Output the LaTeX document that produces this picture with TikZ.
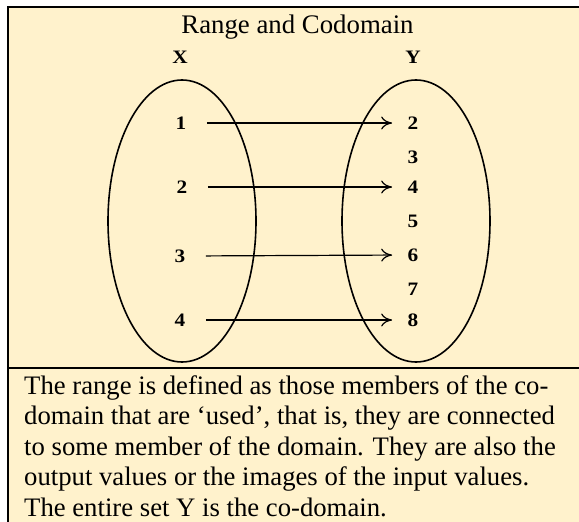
\documentclass[tikz,border=0pt]{standalone}
\usepackage{fontspec}
\setmainfont{Liberation Serif}
\usepackage{xcolor}
\usetikzlibrary{arrows.meta,positioning,calc}
\definecolor{cream}{RGB}{255,242,204}
\newcommand{\wide}[1]{\scalebox{1.12}[1]{#1}}

\begin{document}
\begin{tikzpicture}[x=1pt,y=-1pt,>={To[length=11pt,width=13pt]},
  elem/.style={font=\fontsize{19}{22}\selectfont\bfseries}]
\useasboundingbox (0,0) rectangle (579,522);
% frame
\fill[cream] (8,7) rectangle (579,522);
\draw[line width=2pt] (7,7)--(579,7);
\draw[line width=2.5pt] (8,6)--(8,522);
\draw[line width=2pt] (8,368)--(579,368);
\node[font=\fontsize{26.8}{30}\selectfont,anchor=base] (title) at (297.5,33) {Range and Codomain};
% the two sets
\draw[line width=1.6pt] (182,221) ellipse [x radius=74,y radius=141];
\draw[line width=1.6pt] (416,221) ellipse [x radius=74,y radius=141];
\node[elem] (X) at (180,57) {\wide{X}};
\node[elem] (Y) at (413,57) {\wide{Y}};
% domain
\node[elem] (x1) at (181,123) {\wide{1}};
\node[elem] (x2) at (182,187) {\wide{2}};
\node[elem] (x3) at (180,256) {\wide{3}};
\node[elem] (x4) at (180,320) {\wide{4}};
% codomain
\node[elem] (y2) at (413,123) {\wide{2}};
\node[elem] (y3) at (413,157) {\wide{3}};
\node[elem] (y4) at (413,187) {\wide{4}};
\node[elem] (y5) at (413,221) {\wide{5}};
\node[elem] (y6) at (413,255) {\wide{6}};
\node[elem] (y7) at (413,289) {\wide{7}};
\node[elem] (y8) at (413,320) {\wide{8}};
% the map
\begin{scope}[line width=1.2pt,shorten <=17pt,shorten >=12pt]
  \draw[->] (x1.east)--(y2.west);
  \draw[->] (x2.east)--(y4.west);
  \draw[->] (x3.east)--(y6.west);
  \draw[->] (x4.east)--(y8.west);
\end{scope}
\node[font=\fontsize{26.7}{30.6}\selectfont,align=left,anchor=north west,inner sep=0pt] (note) at (24,375)
  {The range is defined as those members of the co-\\
   domain that are ‘used’, that is, they are connected\\
   to some member of the domain. They are also the\\
   output values or the images of the input values.\\
   The entire set Y is the co-domain.};
\end{tikzpicture}
\end{document}
